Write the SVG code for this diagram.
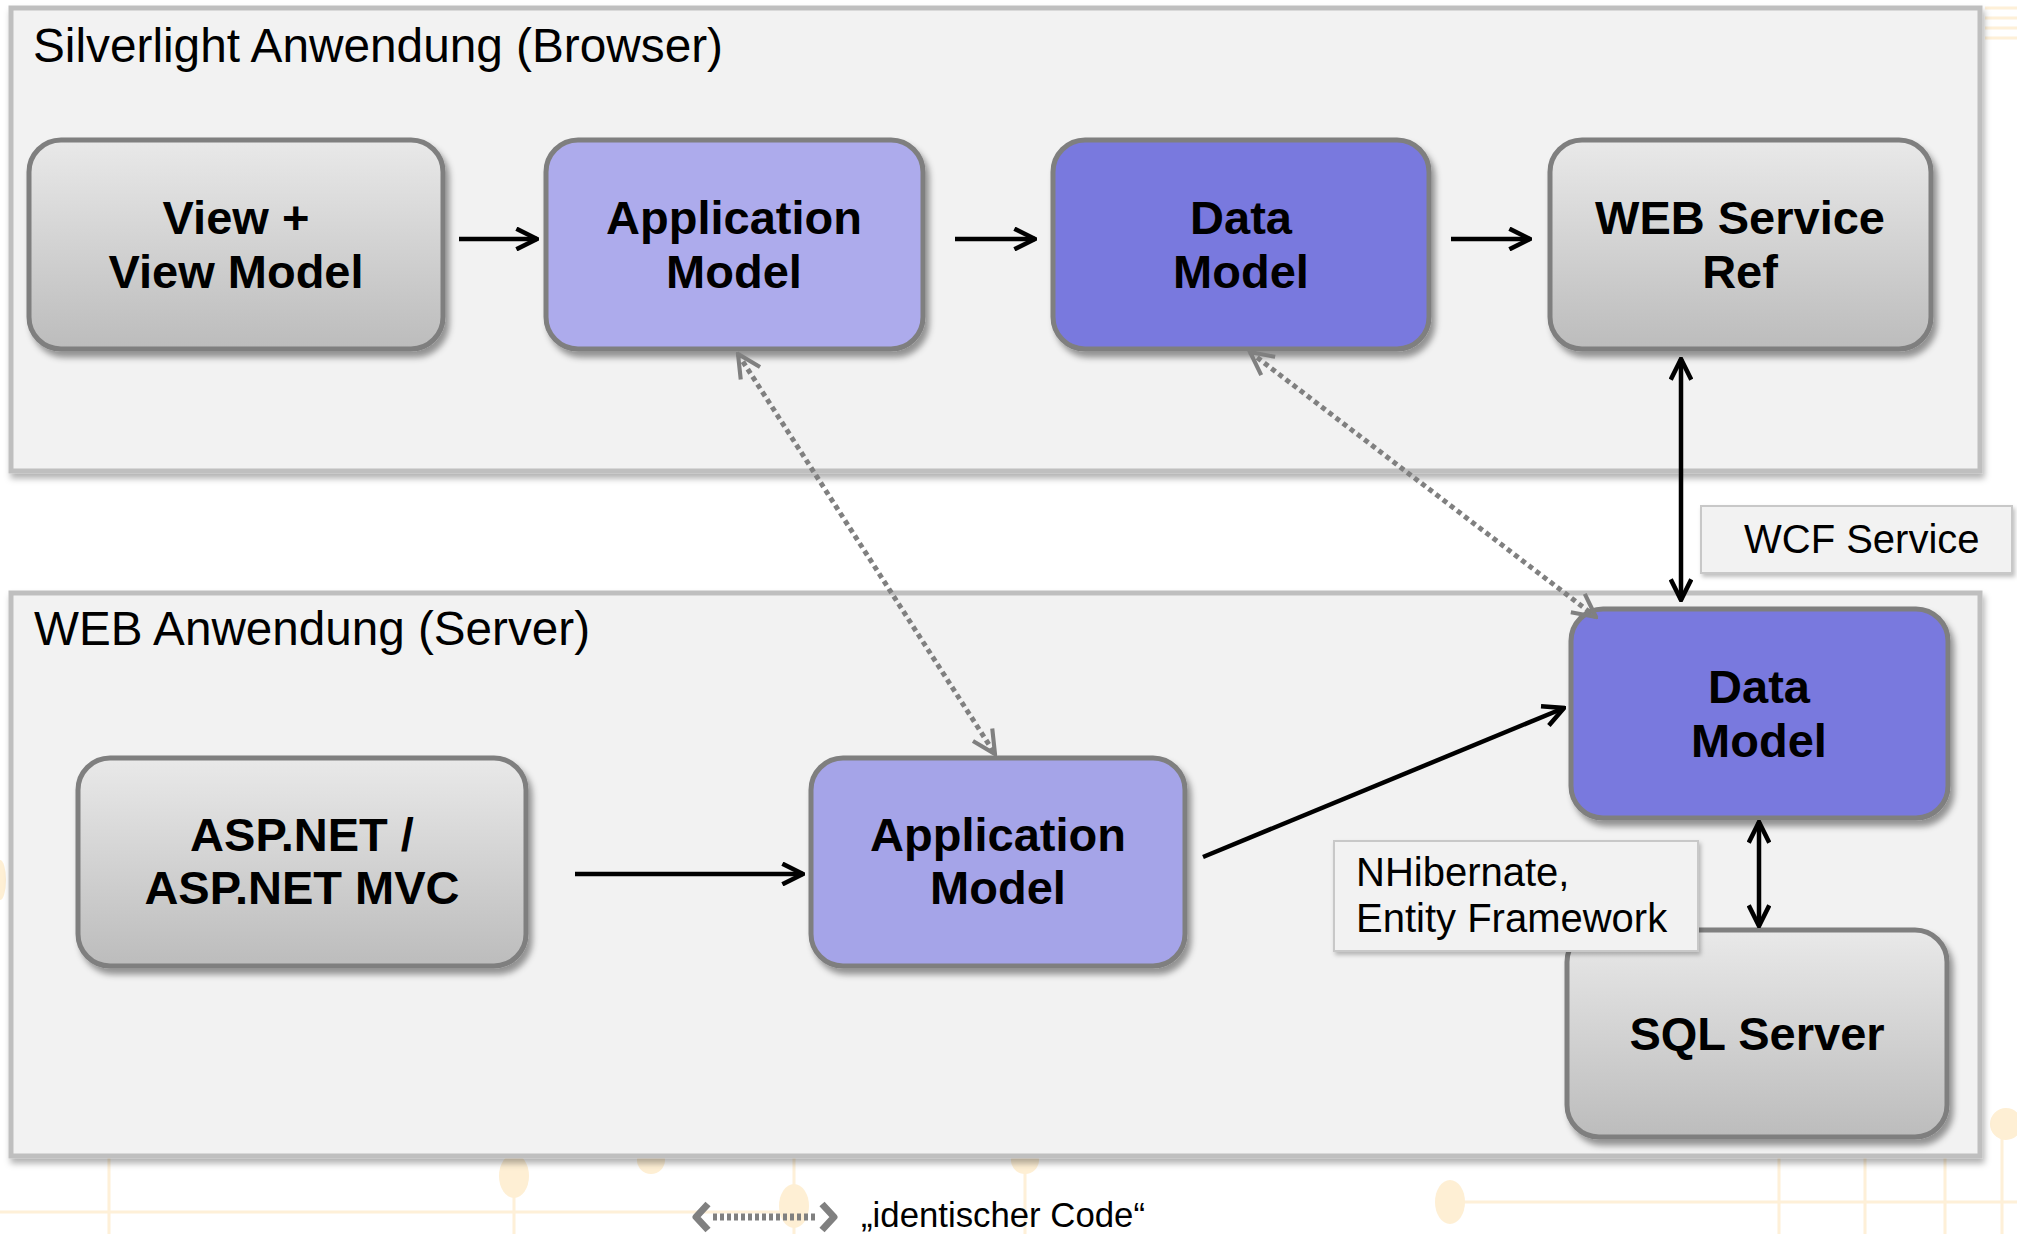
<svg xmlns="http://www.w3.org/2000/svg" width="2017" height="1234" viewBox="0 0 2017 1234">
<defs>
<style>
.cont{fill:#F2F2F2;stroke:#BFBFBF;stroke-width:5;filter:url(#csh)}
.node{stroke:#7F7F7F;stroke-width:5;filter:url(#nsh)}
.gray{fill:url(#gg)}
.app1{fill:#ADABEC}
.app2{fill:#A5A4E8}
.data{fill:#7979DE}
.lbl{font-family:"Liberation Sans",Arial,sans-serif;font-weight:bold;font-size:47px;fill:#000;text-anchor:middle}
.title{font-family:"Liberation Sans",Arial,sans-serif;font-size:48px;fill:#000}
.small{font-family:"Liberation Sans",Arial,sans-serif;font-size:40px;fill:#000}
.note{fill:#F2F2F2;stroke:#C8C8C8;stroke-width:2;filter:url(#bsh)}
.arr{stroke:#000;stroke-width:4.5;fill:none}
.dot{stroke:#808080;stroke-width:5;stroke-dasharray:5 4;fill:none}
.deco{stroke:#FEF0D8;stroke-width:3;fill:none}
.decoc{fill:#FEEFD4}
</style>
<linearGradient id="gg" x1="0" y1="0" x2="0" y2="1">
<stop offset="0" stop-color="#E9E9E9"/>
<stop offset="1" stop-color="#BCBCBC"/>
</linearGradient>
<filter id="nsh" x="-10%" y="-10%" width="125%" height="130%">
<feDropShadow dx="4" dy="6" stdDeviation="3" flood-color="#000" flood-opacity="0.4"/>
</filter>
<filter id="csh" x="-5%" y="-5%" width="110%" height="115%">
<feDropShadow dx="2" dy="5" stdDeviation="3" flood-color="#000" flood-opacity="0.3"/>
</filter>
<filter id="bsh" x="-10%" y="-10%" width="120%" height="130%">
<feDropShadow dx="2" dy="3" stdDeviation="2" flood-color="#000" flood-opacity="0.25"/>
</filter>
<marker id="ah" viewBox="0 0 12 12" refX="11" refY="6" markerWidth="5.5" markerHeight="5.5" markerUnits="strokeWidth" orient="auto-start-reverse">
<path d="M1,1 L11,6 L1,11" fill="none" stroke="#000" stroke-width="2.2"/>
</marker>
<marker id="gh" viewBox="0 0 12 12" refX="11" refY="6" markerWidth="5.5" markerHeight="5.5" markerUnits="strokeWidth" orient="auto-start-reverse">
<path d="M1,1 L11,6 L1,11" fill="none" stroke="#808080" stroke-width="1.8"/>
</marker>
</defs>
<rect x="0" y="0" width="2017" height="1234" fill="#FFFFFF"/>
<g id="decoration">
<path class="deco" d="M109,1150 V1234 M514,1150 V1234 M794,1150 V1234 M1025,1150 V1234 M1779,1150 V1234 M1865,1150 V1234 M1945,1150 V1234 M0,1212 H794 M1450,1202 H2017 M2002,1124 V1234"/>
<ellipse class="decoc" cx="514" cy="1176" rx="15" ry="22"/>
<ellipse class="decoc" cx="794" cy="1206" rx="15" ry="22"/>
<ellipse class="decoc" cx="1450" cy="1202" rx="15" ry="22"/>
<ellipse class="decoc" cx="651" cy="1160" rx="14" ry="14"/>
<ellipse class="decoc" cx="1025" cy="1160" rx="14" ry="14"/>
<circle class="decoc" cx="2006" cy="1124" r="16"/>
<ellipse class="decoc" cx="0" cy="880" rx="6" ry="20"/>
<path class="deco" d="M1985,8 H2017 M1985,18 H2017 M1985,28 H2017 M1985,38 H2017" stroke-width="2"/>
</g>
<g id="browser">
<rect class="cont" x="11" y="8" width="1969" height="463"/>
<text class="title" x="33" y="62" textLength="690" lengthAdjust="spacingAndGlyphs">Silverlight Anwendung (Browser)</text>
</g>
<g id="server">
<rect class="cont" x="11" y="593" width="1969" height="563"/>
<text class="title" x="34" y="645" textLength="556" lengthAdjust="spacingAndGlyphs">WEB Anwendung (Server)</text>
</g>
<g id="wcf-label">
<rect class="note" x="1701" y="506" width="311" height="67"/>
<text class="small" x="1744" y="553">WCF Service</text>
</g>
<g id="view">
<rect class="node gray" x="29" y="140" width="414" height="209" rx="32"/>
<text class="lbl" x="236" y="234">View +</text>
<text class="lbl" x="236" y="288">View Model</text>
</g>
<g id="app-top">
<rect class="node app1" x="546" y="140" width="377" height="209" rx="32"/>
<text class="lbl" x="734" y="234">Application</text>
<text class="lbl" x="734" y="288">Model</text>
</g>
<g id="data-top">
<rect class="node data" x="1053" y="140" width="376" height="209" rx="32"/>
<text class="lbl" x="1241" y="234">Data</text>
<text class="lbl" x="1241" y="288">Model</text>
</g>
<g id="wsref">
<rect class="node gray" x="1550" y="140" width="381" height="209" rx="32"/>
<text class="lbl" x="1740" y="234">WEB Service</text>
<text class="lbl" x="1740" y="288">Ref</text>
</g>
<g id="aspnet">
<rect class="node gray" x="78" y="758" width="448" height="208" rx="32"/>
<text class="lbl" x="302" y="851">ASP.NET /</text>
<text class="lbl" x="302" y="904">ASP.NET MVC</text>
</g>
<g id="app-bottom">
<rect class="node app2" x="811" y="758" width="374" height="208" rx="32"/>
<text class="lbl" x="998" y="851">Application</text>
<text class="lbl" x="998" y="904">Model</text>
</g>
<g id="data-bottom">
<rect class="node data" x="1571" y="609" width="377" height="209" rx="32"/>
<text class="lbl" x="1759" y="703">Data</text>
<text class="lbl" x="1759" y="757">Model</text>
</g>
<g id="sql">
<rect class="node gray" x="1567" y="930" width="380" height="207" rx="32"/>
<text class="lbl" x="1757" y="1050">SQL Server</text>
</g>
<g id="nh-label">
<rect class="note" x="1334" y="841" width="364" height="110"/>
<text class="small" x="1356" y="886">NHibernate,</text>
<text class="small" x="1356" y="932">Entity Framework</text>
</g>
<g id="connectors">
<line class="arr" x1="459" y1="239" x2="537" y2="239" marker-end="url(#ah)"/>
<line class="arr" x1="955" y1="239" x2="1035" y2="239" marker-end="url(#ah)"/>
<line class="arr" x1="1451" y1="239" x2="1530" y2="239" marker-end="url(#ah)"/>
<line class="arr" x1="575" y1="874" x2="803" y2="874" marker-end="url(#ah)"/>
<line class="arr" x1="1203" y1="857" x2="1564" y2="708" marker-end="url(#ah)"/>
<line class="arr" x1="1681" y1="359" x2="1681" y2="600" marker-start="url(#ah)" marker-end="url(#ah)"/>
<line class="arr" x1="1759" y1="822" x2="1759" y2="926" marker-start="url(#ah)" marker-end="url(#ah)"/>
<line class="dot" x1="738" y1="354" x2="995" y2="754" marker-start="url(#gh)" marker-end="url(#gh)"/>
<line class="dot" x1="1250" y1="352" x2="1596" y2="617" marker-start="url(#gh)" marker-end="url(#gh)"/>
</g>
<g id="legend">
<path d="M713,1217 H818" stroke="#808080" stroke-width="7" stroke-dasharray="4 3" fill="none"/>
<path d="M708,1204 L696,1217 L708,1230 M822,1204 L834,1217 L822,1230" stroke="#808080" stroke-width="7" fill="none" stroke-linejoin="round"/>
<text x="861" y="1227" font-family="Liberation Sans, Arial, sans-serif" font-size="35" textLength="284" lengthAdjust="spacingAndGlyphs">„identischer Code“</text>
</g>
</svg>
